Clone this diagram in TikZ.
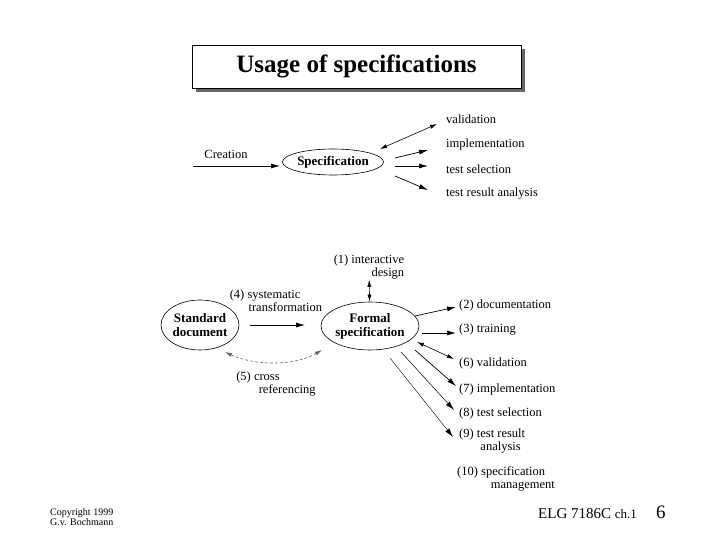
\documentclass[tikz,border=0pt]{standalone}
\usepackage{fontspec}
\setmainfont{Liberation Serif}
\usetikzlibrary{arrows.meta,shapes.geometric}
\begin{document}
\begin{tikzpicture}[x=1pt,y=-1pt,
 lab/.style={font=\fontsize{12.5}{13}\selectfont,inner sep=0pt,align=left},
 ar/.style={-{Latex[length=9pt,width=5pt]},line width=0.7pt},
 dar/.style={{Latex[length=7pt,width=4pt]}-{Latex[length=7pt,width=4pt]},line width=0.6pt},
 ell/.style={ellipse,draw,line width=0.6pt,font=\bfseries\fontsize{13}{14}\selectfont,align=center,inner sep=0pt}]
\useasboundingbox (0,0) rectangle (720,540);
% title
\fill[black!60] (196,49) rectangle (525,92);
\node[draw,fill=white,line width=0.8pt,minimum width=329pt,minimum height=43pt,inner sep=0pt,font=\bfseries\fontsize{25}{27}\selectfont] (title) at (356.5,66.5) {Usage of specifications};
% top diagram
\coordinate (c0) at (193,166); \coordinate (c1) at (280,166);
\node[ell,minimum width=96pt,minimum height=26pt] (spec) at (333,162) {Specification};
\node[lab,anchor=south] (creat) at (226,159) {Creation};
\draw[ar] (c0) -- (c1);
\node[lab,anchor=west] (val) at (446,119) {validation};
\node[lab,anchor=west] (imp) at (446,144) {implementation};
\node[lab,anchor=west] (ts) at (446,169) {test selection};
\node[lab,anchor=west] (tra) at (446,194) {test result analysis};
\coordinate (v1) at (380,149); \coordinate (v2) at (437,124);
\draw[dar] (v1) -- (v2);
\coordinate (i1) at (395,158); \coordinate (i2) at (428,150);
\draw[ar] (i1) -- (i2);
\coordinate (t1) at (395,166); \coordinate (t2) at (428,166);
\draw[ar] (t1) -- (t2);
\coordinate (r1) at (395,176); \coordinate (r2) at (428,190);
\draw[ar] (r1) -- (r2);
% bottom diagram
\node[ell,minimum width=78pt,minimum height=50pt] (std) at (200,325) {Standard\\document};
\node[ell,minimum width=94pt,minimum height=48pt] (form) at (370,326) {Formal\\specification};
\node[lab,anchor=north,align=right] (l1) at (369,255) {(1) interactive\\design};
\draw[dar] (l1) -- (form);
\node[lab,anchor=south,align=left] (l4) at (276,312) {(4) systematic\\\hspace*{1.5em}transformation};
\coordinate (s1) at (250,325); \coordinate (s2) at (305,325);
\draw[ar] (s1) -- (s2);
\coordinate (x1) at (225,352); \coordinate (x2) at (322,350);
\draw[dar,densely dashed,black!60] (x1) .. controls (255,366) and (295,366) .. (x2);
\node[lab,anchor=north,align=left] (l5) at (276,372) {(5) cross\\\hspace*{1.8em}referencing};
\node[lab,anchor=west] (d2) at (459,305) {(2) documentation};
\node[lab,anchor=west] (d3) at (459,330) {(3) training};
\node[lab,anchor=west] (d6) at (459,363) {(6) validation};
\node[lab,anchor=west] (d7) at (459,389) {(7) implementation};
\node[lab,anchor=west] (d8) at (459,413) {(8) test selection};
\node[lab,anchor=north west] (d9) at (459,429) {(9) test result\\\hspace*{1.7em}analysis};
\node[lab,anchor=north west] (d10) at (457,466) {(10) specification\\\hspace*{2.7em}management};
\coordinate (a1) at (415,316); \coordinate (a2) at (456,307); \draw[ar] (a1) -- (a2);
\coordinate (b1) at (422,333); \coordinate (b2) at (456,333); \draw[ar] (b1) -- (b2);
\coordinate (e1) at (417,342); \coordinate (e2) at (454,359); \draw[dar] (e1) -- (e2);
\coordinate (f1) at (415,350); \coordinate (f2) at (456,386); \draw[ar] (f1) -- (f2);
\coordinate (g1) at (401,352); \coordinate (g2) at (454,410); \draw[ar,line width=0.5pt] (g1) -- (g2);
\coordinate (h1) at (390,358); \coordinate (h2) at (453,437); \draw[ar,line width=0.4pt] (h1) -- (h2);
% footer
\node[lab,font=\fontsize{10}{10.5}\selectfont,anchor=west] (copy) at (50,517) {Copyright 1999\\G.v. Bochmann};
\node[anchor=base west,inner sep=0pt,font=\fontsize{15}{16}\selectfont] (elg) at (538,518) {ELG 7186C {\fontsize{13}{14}\selectfont ch.1}};
\node[anchor=base west,inner sep=0pt,font=\fontsize{19}{20}\selectfont] (pg) at (656,518) {6};
\end{tikzpicture}
\end{document}
